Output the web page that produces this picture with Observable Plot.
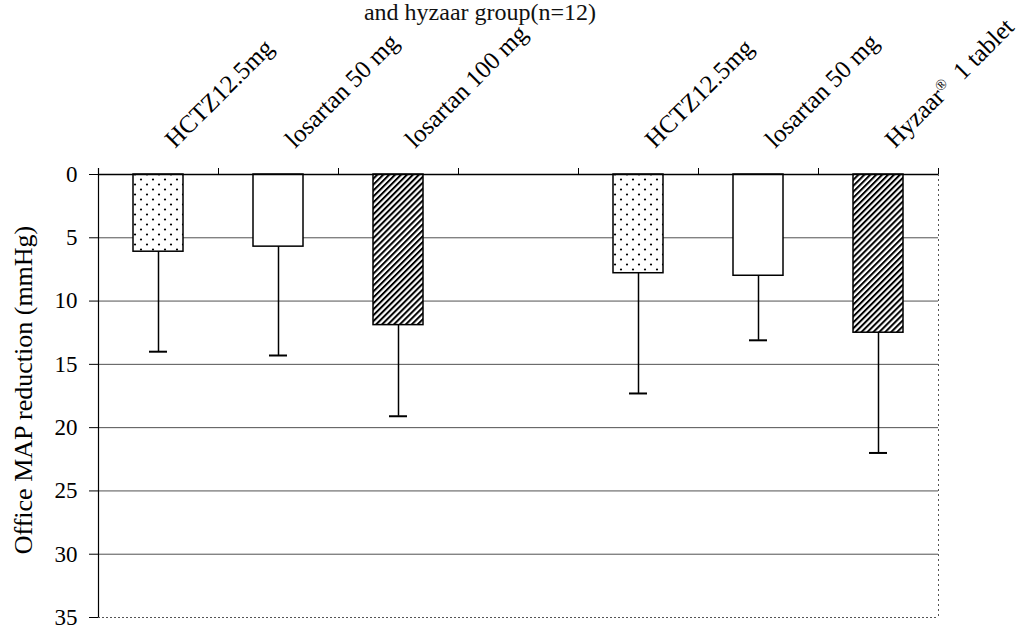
<!DOCTYPE html>
<html>
<head>
<meta charset="utf-8">
<script src="https://cdn.jsdelivr.net/npm/d3@7"></script>
<script src="https://cdn.jsdelivr.net/npm/@observablehq/plot@0.6"></script>
<style>
  body { margin: 0; background: white; font-family: "Liberation Serif", "Times New Roman", serif; overflow: hidden; }
  #title { width: 960px; height: 22px; line-height: 26px; font-size: 24px; text-align: center; color: #111; white-space: nowrap; overflow: visible; position: relative; top: -1px; }
  #chart svg { display: block; }
</style>
</head>
<body>
<div id="title">and hyzaar group(n=12)</div>
<div id="chart"></div>
<script>
// ---- data ----
const barIds = ["g1-hctz", "g1-los50", "g1-los100", "g2-hctz", "g2-los50", "g2-hyzaar"];
const barLabels = ["HCTZ12.5mg", "losartan 50 mg", "losartan 100 mg", "HCTZ12.5mg", "losartan 50 mg", "Hyzaar® 1 tablet"];
const meanReduction = [6.1, 5.7, 11.9, 7.8, 8.0, 12.5];
const sdReduction = [7.9, 8.6, 7.2, 9.5, 5.1, 9.5];
const fillKinds = ["dots", "plain", "hatch", "dots", "plain", "hatch"];
const xDomain = ["g1-hctz", "g1-los50", "g1-los100", "gap", "g2-hctz", "g2-los50", "g2-hyzaar"];
const yTicks = [0, 5, 10, 15, 20, 25, 30, 35];
const gridTicks = [5, 10, 15, 20, 25, 30];
const yLabel = "Office MAP reduction (mmHg)";

const rows = barIds.map((id, i) => ({
  id, label: barLabels[i], mean: meanReduction[i], sd: sdReduction[i],
  upper: meanReduction[i] + sdReduction[i], kind: fillKinds[i]
}));

// ---- layout ----
const W = 1028, H = 607, mL = 98, mR = 90, mT = 152, mB = 12;
const step = (W - mL - mR) / xDomain.length;
const font = '"Liberation Serif", "Times New Roman", serif';

const fills = {dots: "url(#dots)", plain: "white", hatch: "url(#hatch)"};

const svg = Plot.plot({
  width: W, height: H,
  marginLeft: mL, marginRight: mR, marginTop: mT, marginBottom: mB,
  style: {fontFamily: font, fontSize: "24px", background: "white", color: "black", overflow: "visible"},
  x: {domain: xDomain, paddingInner: 0.58, paddingOuter: 0.29, axis: null},
  y: {domain: [0, 35], reverse: true, axis: null},
  marks: [
    Plot.gridY({ticks: gridTicks, stroke: "#333", strokeOpacity: 0.85, strokeWidth: 1}),
    Plot.ruleY([35], {stroke: "#555", strokeWidth: 1, strokeDasharray: "2,2"}),
    Plot.ruleX([xDomain[xDomain.length - 1]], {y1: 0, y2: 35, dx: step / 2, stroke: "#555", strokeDasharray: "2,3"}),
    // bars
    ...Object.keys(fills).map(k =>
      Plot.barY(rows.filter(d => d.kind === k), {
        x: "id", y1: 0, y2: "mean", fill: fills[k], stroke: "black", strokeWidth: 1.5
      })
    ),
    // error bars (downward only)
    Plot.ruleX(rows, {x: "id", y1: "mean", y2: "upper", stroke: "black", strokeWidth: 1.5}),
    Plot.tickY(rows, {x: "id", y: "upper", stroke: "black", strokeWidth: 2, insetLeft: 16, insetRight: 16}),
    // top axis line at 0 and boundary ticks
    Plot.ruleY([0], {stroke: "black", strokeWidth: 1.5}),
    Plot.ruleX(xDomain, {y1: 0, y2: 0, dx: step / 2, insetTop: -6, stroke: "black", strokeWidth: 1}),
    // left axis line
    Plot.ruleX([xDomain[0]], {y1: 0, y2: 35, dx: -step / 2, insetTop: -6, stroke: "black", strokeWidth: 1.2}),
    Plot.axisY({ticks: yTicks, tickSize: 9, tickPadding: 12, label: null, fontSize: 23}),
    // category labels
    Plot.text(rows, {x: "id", text: "label", frameAnchor: "top", rotate: -45, textAnchor: "start",
      dx: 4, dy: -38, fontSize: 25, fill: "black"}),
    // y label
    Plot.text([yLabel], {frameAnchor: "left", rotate: -90, textAnchor: "middle", dx: -75, dy: -6, fontSize: 26, fill: "black"})
  ]
});

// patterns
const ns = "http://www.w3.org/2000/svg";
const defs = document.createElementNS(ns, "defs");
defs.innerHTML = `
  <pattern id="dots" patternUnits="userSpaceOnUse" width="12" height="10">
    <rect width="12" height="10" fill="white"/>
    <circle cx="3" cy="2.5" r="1.1" fill="black"/>
    <circle cx="9" cy="7.5" r="1.1" fill="black"/>
  </pattern>
  <pattern id="hatch" patternUnits="userSpaceOnUse" width="4.2" height="4.2" patternTransform="rotate(45)">
    <rect width="4.2" height="4.2" fill="white"/>
    <line x1="1" y1="0" x2="1" y2="4.2" stroke="black" stroke-width="2"/>
  </pattern>`;
svg.insertBefore(defs, svg.firstChild);

// superscript the registered sign
svg.querySelectorAll("text").forEach(t => {
  if (t.textContent.includes("®")) {
    const [a, b] = t.textContent.split("®");
    t.textContent = "";
    const t1 = document.createElementNS(ns, "tspan"); t1.textContent = a;
    const t2 = document.createElementNS(ns, "tspan"); t2.textContent = "®";
    t2.setAttribute("font-size", "15"); t2.setAttribute("baseline-shift", "super");
    const t3 = document.createElementNS(ns, "tspan"); t3.textContent = "  " + b.trim();
    t.appendChild(t1); t.appendChild(t2); t.appendChild(t3);
    t.setAttribute("xml:space", "preserve");
    t.style.whiteSpace = "pre";
  }
});

document.getElementById("chart").appendChild(svg);
</script>
</body>
</html>
